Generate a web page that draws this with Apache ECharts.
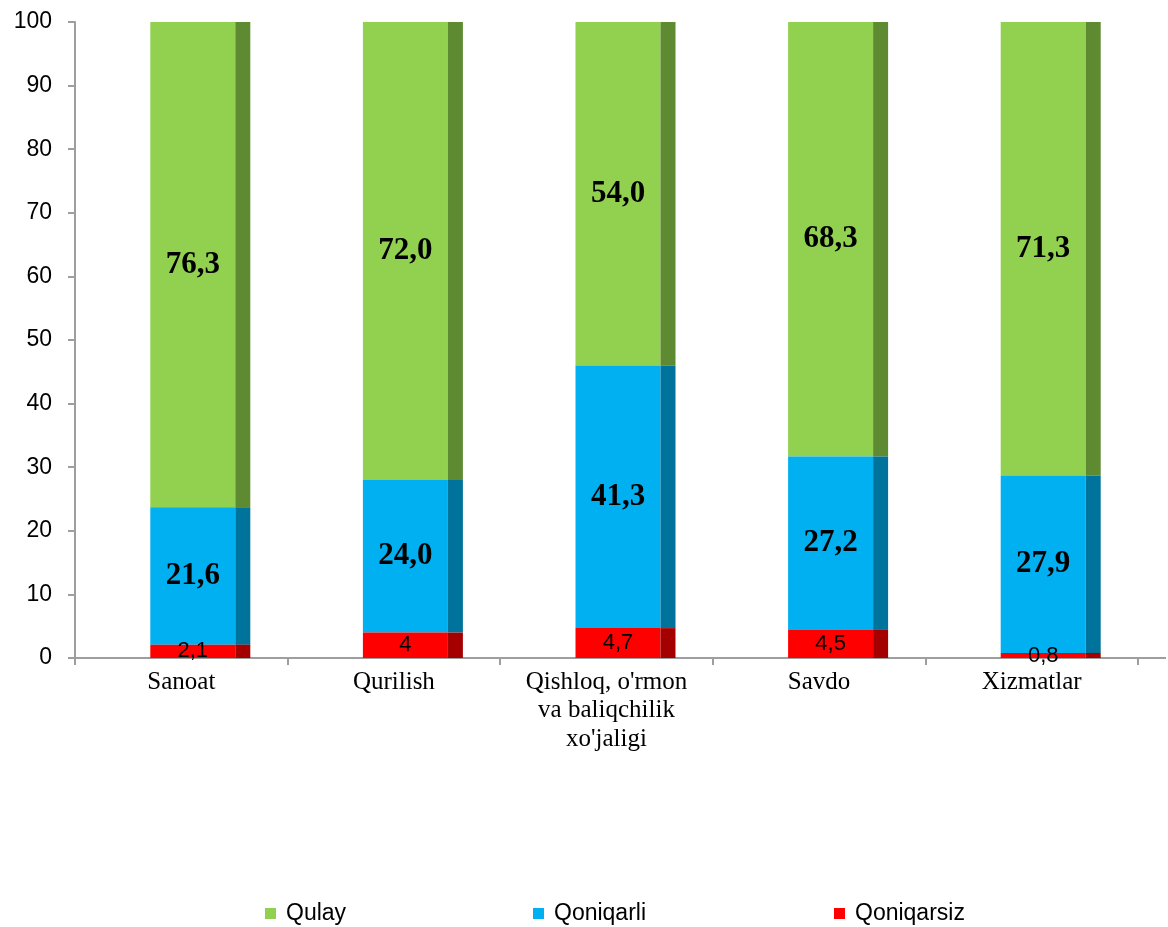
<!DOCTYPE html>
<html>
<head>
<meta charset="utf-8">
<script src="https://cdn.jsdelivr.net/npm/echarts@6/dist/echarts.min.js"></script>
<style>html,body{margin:0;padding:0;background:#fff;}#c{width:1168px;height:927px;}</style>
</head>
<body>
<div id="c"></div>
<script>
var categories = ['Sanoat', 'Qurilish', "Qishloq, o'rmon\nva baliqchilik\nxo'jaligi", 'Savdo', 'Xizmatlar'];
var qoniqarsiz = [2.1, 4, 4.7, 4.5, 0.8];
var qoniqarsizLabels = ['2,1', '4', '4,7', '4,5', '0,8'];
var qoniqarli = [21.6, 24.0, 41.3, 27.2, 27.9];
var qoniqarliLabels = ['21,6', '24,0', '41,3', '27,2', '27,9'];
var qulay = [76.3, 72.0, 54.0, 68.3, 71.3];
var qulayLabels = ['76,3', '72,0', '54,0', '68,3', '71,3'];
var yTicks = [0, 10, 20, 30, 40, 50, 60, 70, 80, 90, 100];

var chart = echarts.init(document.getElementById('c'));

function buildData(vals, bases) {
  return vals.map(function (v, i) { return [i, bases[i], bases[i] + v]; });
}
var base0 = [0, 0, 0, 0, 0];
var base1 = qoniqarsiz.slice();
var base2 = qoniqarsiz.map(function (v, i) { return v + qoniqarli[i]; });

function makeRender(front, side, labels, font, labelColor) {
  return function (params, api) {
    var idx = api.value(0);
    var b = api.value(1), t = api.value(2);
    var p0 = api.coord([idx, b]);
    var p1 = api.coord([idx, t]);
    var cx = p0[0];
    var fl = cx - 31, fr = cx + 54, sr = cx + 69;
    var y1 = p1[1], h = p0[1] - p1[1];
    return {
      type: 'group',
      children: [
        { type: 'rect', shape: { x: fl, y: y1, width: fr - fl, height: h }, style: { fill: front } },
        { type: 'rect', shape: { x: fr, y: y1, width: sr - fr, height: h }, style: { fill: side } },
        { type: 'text', z2: 10, style: { text: labels[idx], x: (fl + fr) / 2, y: y1 + h / 2, align: 'center', verticalAlign: 'middle', font: font, fill: labelColor } }
      ]
    };
  };
}

var legendText = { fontFamily: 'Liberation Sans', fontSize: 23, color: '#000', padding: [0, 0, 0, 5] };
chart.setOption({
  animation: false,
  grid: { left: 75, right: 30, top: 22, bottom: 269, containLabel: false },
  legend: [
    { data: ['Qulay'], left: 260, top: 897, icon: 'rect', itemWidth: 11, itemHeight: 11, textStyle: legendText },
    { data: ['Qoniqarli'], left: 528, top: 897, icon: 'rect', itemWidth: 11, itemHeight: 11, textStyle: legendText },
    { data: ['Qoniqarsiz'], left: 829, top: 897, icon: 'rect', itemWidth: 11, itemHeight: 11, textStyle: legendText }
  ],
  xAxis: {
    type: 'category',
    data: categories,
    axisLine: { lineStyle: { color: '#9E9E9E', width: 2 } },
    axisTick: { show: true, interval: 0, length: 7, lineStyle: { color: '#9E9E9E', width: 2 } },
    axisLabel: { interval: 0, color: '#000', fontFamily: 'Liberation Serif', fontSize: 25, lineHeight: 28.5, margin: 10 }
  },
  yAxis: {
    type: 'value',
    min: 0, max: 100, interval: 10,
    axisLine: { show: true, lineStyle: { color: '#9E9E9E', width: 2 } },
    axisTick: { show: true, length: 7, lineStyle: { color: '#9E9E9E', width: 2 } },
    splitLine: { show: false },
    axisLabel: { color: '#000', fontFamily: 'Liberation Sans', fontSize: 23, margin: 23,
      formatter: function (v) { return yTicks.indexOf(v) >= 0 ? String(v) : ''; } }
  },
  series: [
    { name: 'Qulay', type: 'custom', itemStyle: { color: '#92D050' }, encode: { x: 0, y: [1, 2] },
      data: buildData(qulay, base2),
      renderItem: makeRender('#92D050', '#5E8A32', qulayLabels, 'bold 31px "Liberation Serif"', '#000') },
    { name: 'Qoniqarli', type: 'custom', itemStyle: { color: '#00B0F0' }, encode: { x: 0, y: [1, 2] },
      data: buildData(qoniqarli, base1),
      renderItem: makeRender('#00B0F0', '#00739C', qoniqarliLabels, 'bold 31px "Liberation Serif"', '#000') },
    { name: 'Qoniqarsiz', type: 'custom', itemStyle: { color: '#FF0000' }, encode: { x: 0, y: [1, 2] },
      data: buildData(qoniqarsiz, base0),
      renderItem: makeRender('#FF0000', '#A50000', qoniqarsizLabels, '22px "Liberation Sans"', '#000') }
  ]
});

// extend the x axis line to the right edge, as in the reference
var gridRect = chart.getModel().getComponent('grid').coordinateSystem.getRect();
chart.setOption({
  graphic: [{ type: 'line', shape: { x1: gridRect.x + gridRect.width, y1: gridRect.y + gridRect.height, x2: 1166, y2: gridRect.y + gridRect.height },
    style: { stroke: '#9E9E9E', lineWidth: 2 }, silent: true }]
});
</script>
</body>
</html>
